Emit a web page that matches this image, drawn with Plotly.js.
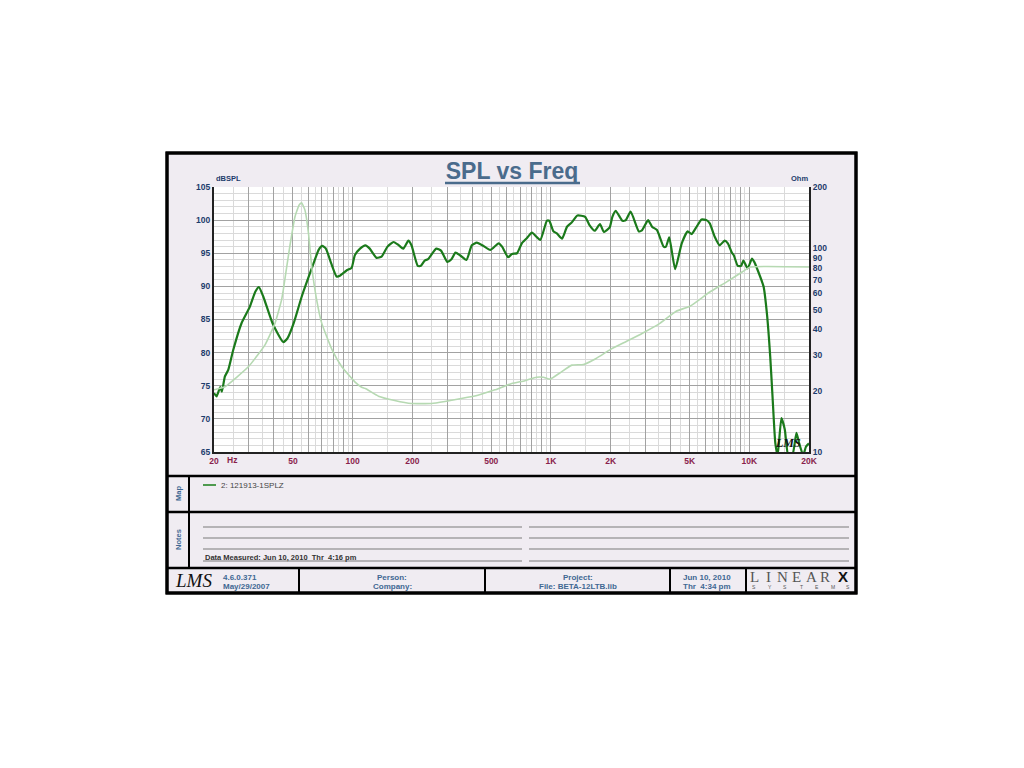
<!DOCTYPE html>
<html>
<head>
<meta charset="utf-8">
<script src="https://cdn.plot.ly/plotly-3.0.1.min.js"></script>
<style>html,body{margin:0;padding:0;background:#fff;}#chart{width:1024px;height:768px;}</style>
</head>
<body>
<div id="chart"></div>
<script>
// ---- data ----
const splFreq = [20,20.6,21.5,21.9,22.7,23.6,25,27.5,30.3,32.3,33.7,35.5,39.5,44.7,47,50.4,55.3,62.2,67.4,70.2,73.3,77.9,83,86.2,93.2,98.8,102.6,109,116,122,132,140,150,161,171,180,191,198,213,221,231,240,264,279,300,315,330,348,375,399,423,457,494,545,567,608,636,674,713,757,802,883,953,980,1030,1071,1137,1205,1268,1360,1487,1561,1662,1766,1849,1977,2040,2121,2293,2383,2522,2774,2884,3088,3233,3424,3698,3800,3947,4228,4565,4890,5122,5425,5744,6085,6320,6693,7088,7506,7797,8164,8354,8748,9093,9337,9813,10310,10590,10940,11800,12270,12750,13100,13530,13900,14520,15100,15720,16480,17290,17850,18700,19300,20000];
const splDb = [73.9,73.4,74.8,74.1,76.4,77.4,80.4,84.4,86.9,89.2,89.9,88.4,84.4,81.6,82.2,84.4,88.4,92.7,95.5,96.1,95.7,93.5,91.5,91.6,92.4,92.8,94.7,95.7,96.2,95.7,94.3,94.5,96.0,96.7,96.2,95.7,96.9,96.2,93.1,93.1,93.9,94.1,95.7,95.4,93.7,94.1,95.1,94.7,94.0,96.2,96.6,96.1,95.5,96.5,96.0,94.4,94.9,95.0,96.5,97.3,98.1,97.0,99.9,99.9,98.3,98.0,97.2,99.0,99.6,100.7,100.5,99.3,98.4,99.4,98.2,98.9,100.5,101.4,99.9,100.0,101.3,98.3,98.5,100.0,99.0,98.5,96.0,96.0,97.4,92.6,96.5,98.3,97.9,99.0,100.1,100.0,99.5,97.5,96.2,96.9,96.5,95.1,94.7,93.1,93.1,93.9,92.7,94.2,93.7,92.7,90.0,85.9,79.4,73.3,66.3,64.5,70.1,68.4,64.5,64.5,67.9,66.3,64.5,65.8,66.3];

const impFreq = [20,22.7,29.8,36.1,40.6,43.8,44.7,48.2,51.2,53.7,55.3,57.5,59.9,62.2,65.9,69.9,78.8,88.2,102.6,111,116,135,163,198,250,292,353,428,522,634,739,846,916,992,1112,1274,1459,1690,2000,2385,2893,3540,4280,5050,6320,7690,9200,10120,20000];
const impOhm = [20.2,20.9,26.2,33.5,42.8,55.7,62.4,101.9,143,163,167.5,154,118.5,81.2,55.7,42.8,31.7,26.2,22.1,20.8,20.5,18.8,17.9,17.3,17.3,17.7,18.3,19.0,20.2,21.7,22.4,23.3,23.3,22.8,24.5,26.7,26.9,28.8,31.9,34.8,38.3,42.8,49.1,52.1,61.0,68.4,76.5,80.9,80.9];

const xMajorVals = [20,30,40,50,60,70,80,90,100,200,300,400,500,600,700,800,900,1000,2000,3000,4000,5000,6000,7000,8000,9000,10000,20000];
const xMajorText = ['20','','','50','','','','','100','200','','','500','','','','','1K','2K','','','5K','','','','','10K','20K'];
const xMinorVals = [25,35,45,55,65,75,85,95,150,250,350,450,550,650,750,850,950,1500,2500,3500,4500,5500,6500,7500,8500,9500,15000];
const yTickVals = [65,70,75,80,85,90,95,100,105];
const y2TickVals = [10,20,30,40,50,60,70,80,90,100,200];
const y2TickText = ['10','20','30','40','50','60','70','80','90','100','200'];

// ---- layout helpers (pixel -> paper) ----
const L = 214, R = 809, T = 187, B = 452;
const PX = x => (x - L) / (R - L);
const PY = y => (B - y) / (B - T);

const NAVY = '#1d3c6c', MAROON = '#8a1f4c', STEEL = '#3f6892', TITLE = '#4a6b8c';
const FONT = 'Liberation Sans, Arial, sans-serif';

function hline(y, x0, x1, color, w, layer) {
  return {type:'line', xref:'paper', yref:'paper', x0:PX(x0), x1:PX(x1), y0:PY(y), y1:PY(y), line:{color:color, width:w}, layer:layer||'above'};
}
function vline(x, y0, y1, color, w) {
  return {type:'line', xref:'paper', yref:'paper', x0:PX(x), x1:PX(x), y0:PY(y0), y1:PY(y1), line:{color:color, width:w}, layer:'above'};
}
function txt(t, x, y, opts) {
  opts = opts || {};
  return Object.assign({text:t, xref:'paper', yref:'paper', x:PX(x), y:PY(y), showarrow:false,
    xanchor:opts.xa||'left', yanchor:opts.ya||'middle',
    font:{family:opts.family||FONT, size:opts.size||8, color:opts.color||STEEL, weight:opts.weight||'bold', style:opts.style||'normal'}},
    opts.textangle!==undefined?{textangle:opts.textangle}:{});
}

const shapes = [
  {type:'rect', xref:'paper', yref:'paper', x0:PX(167), x1:PX(856), y0:PY(593), y1:PY(153), fillcolor:'#f0ecf2', line:{color:'#000', width:3}, layer:'below'},
  {type:'rect', xref:'paper', yref:'paper', x0:0, x1:1, y0:0, y1:1, fillcolor:'#ffffff', line:{width:0}, layer:'below'},
  {type:'rect', xref:'paper', yref:'paper', x0:PX(167), x1:PX(856), y0:PY(593), y1:PY(153), fillcolor:'rgba(0,0,0,0)', line:{color:'#000', width:3}, layer:'above'},
  hline(476,167,856,'#000',2.5), hline(512,167,856,'#000',2.5), hline(568,167,856,'#000',2.5),
  vline(189,476,568,'#000',2),
  vline(299,568,593,'#000',2), vline(485,568,593,'#000',2), vline(670,568,593,'#000',2), vline(746,568,593,'#000',2),
  hline(183,445,580,TITLE,2.5),
  hline(485,203,216,'#4f9a4f',2),
];
[527,538,549,561].forEach(y => { shapes.push(hline(y,203,522,'#7a7a7a',1)); shapes.push(hline(y,529,849,'#7a7a7a',1)); });

const annotations = [
  txt('dBSPL', 214, 185, {ya:'bottom', size:7.5, color:NAVY}),
  txt('Ohm', 810, 185, {xa:'right', ya:'bottom', size:7.5, color:NAVY}),
  txt('Hz', 225, 460, {size:8.5, color:MAROON}),
  txt('Map', 178, 494, {xa:'center', size:7.5, textangle:-90}),
  txt('Notes', 178, 540, {xa:'center', size:7.5, textangle:-90}),
  txt('2: 121913-1SPLZ', 219, 485, {size:8, color:'#444', weight:'normal'}),
  txt('Data Measured: Jun 10, 2010  Thr  4:16 pm', 203, 557.5, {size:7.5, color:'#333'}),
  txt('4.6.0.371', 221, 577, {size:8}),
  txt('May/29/2007', 221, 586.5, {size:8}),
  txt('Person:', 392, 577, {xa:'center', size:8}),
  txt('Company:', 392, 586.5, {xa:'center', size:8}),
  txt('Project:', 578, 577, {xa:'center', size:8}),
  txt('File: BETA-12LTB.lib', 578, 586.5, {xa:'center', size:8}),
  txt('Jun 10, 2010', 707, 577, {xa:'center', size:8}),
  txt('Thr  4:34 pm', 707, 586.5, {xa:'center', size:8}),
  txt('LMS', 193, 580, {xa:'center', size:19, color:'#111', family:'Liberation Serif, serif', style:'italic', weight:'normal'}),
  txt('LMS', 788, 443, {xa:'center', size:12, color:'#111', family:'Liberation Serif, serif', style:'italic', weight:'bold'}),
  txt('X', 843, 576.5, {xa:'center', size:15, color:'#111', weight:'bold'}),
];
['L','I','N','E','A','R'].forEach((c,i) => annotations.push(txt(c, 754 + i*14.3, 576.5, {xa:'center', size:15, color:'#555', family:'Liberation Serif, serif', weight:'normal'})));
['S','Y','S','T','E','M','S'].forEach((c,i) => annotations.push(txt(c, 754 + i*15.7, 587, {xa:'center', size:5, color:'#555', weight:'normal'})));

const traces = [
  {x:impFreq, y:impOhm, yaxis:'y2', type:'scatter', mode:'lines', line:{color:'#b6d9b2', width:1.6, shape:'spline', smoothing:0.4}, hoverinfo:'skip'},
  {x:splFreq, y:splDb, type:'scatter', mode:'lines', line:{color:'#1b7a1b', width:2.2, shape:'spline', smoothing:0.5}, hoverinfo:'skip'}
];

const layout = {
  width:1024, height:768,
  margin:{l:L, r:1024-R, t:T, b:768-B, pad:0},
  paper_bgcolor:'#ffffff', plot_bgcolor:'#ffffff',
  showlegend:false, hovermode:false,
  title:{text:'SPL vs Freq', x:0.5, xanchor:'center', xref:'container', y:1-171/768, yanchor:'middle', yref:'container',
         font:{family:FONT, size:23, color:TITLE, weight:'bold'}},
  xaxis:{type:'log', range:[Math.log10(20), Math.log10(20000)], tickvals:xMajorVals, ticktext:xMajorText,
         showgrid:true, gridcolor:'#a2a2a2', gridwidth:1, zeroline:false, ticks:'', showline:true, linecolor:'#222', linewidth:2,
         tickfont:{family:FONT, size:8.5, color:MAROON, weight:'bold'}, ticklabelstandoff:0,
         minor:{tickvals:xMinorVals, showgrid:true, gridcolor:'#dadada', gridwidth:1, ticks:''}},
  yaxis:{range:[65,105], tickvals:yTickVals, showgrid:true, gridcolor:'#a2a2a2', gridwidth:1, zeroline:false, ticks:'',
         showline:true, linecolor:'#222', linewidth:2, tickfont:{family:FONT, size:8.5, color:NAVY, weight:'bold'},
         minor:{dtick:1, showgrid:true, gridcolor:'#dadada', gridwidth:1, ticks:''}},
  yaxis2:{type:'log', range:[1, Math.log10(200)], overlaying:'y', side:'right', anchor:'x', tickvals:y2TickVals, ticktext:y2TickText,
          showgrid:false, zeroline:false, ticks:'', showline:true, linecolor:'#222', linewidth:2,
          tickfont:{family:FONT, size:8.5, color:NAVY, weight:'bold'}},
  shapes:shapes, annotations:annotations
};

Plotly.newPlot('chart', traces, layout, {staticPlot:true, displayModeBar:false});
</script>
</body>
</html>
